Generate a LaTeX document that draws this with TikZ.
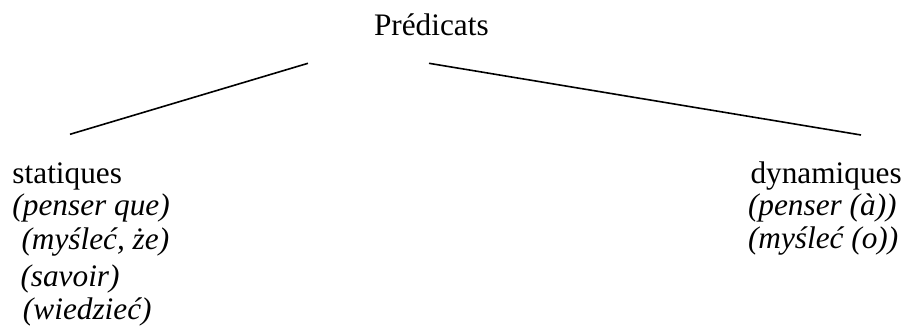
\documentclass[tikz,border=0pt]{standalone}
\usepackage{fontspec}
\setmainfont{Liberation Serif}
\begin{document}
\begin{tikzpicture}[x=1pt,y=-1pt,
  txt/.style={anchor=base west,inner sep=0pt,outer sep=0pt,font=\fontsize{31.3}{33.75}\selectfont},
  itx/.style={txt,font=\fontsize{31.3}{33.75}\selectfont\itshape},
  branch/.style={line width=1.6pt}]
\useasboundingbox (0,0) rectangle (908,336);
\node[txt] (root) at (374,36) {Prédicats};
\node[txt] (stat) at (12.5,184) {statiques};
\node[itx] (s1) at (12.5,216) {(penser que)};
\node[itx] (s2) at (21.5,250) {(myśleć, że)};
\node[itx] (s3) at (20.5,287) {(savoir)};
\node[itx] (s4) at (23,320) {(wiedzieć)};
\node[txt] (dyn) at (750.5,184) {dynamiques};
\node[itx] (d1) at (748,216) {(penser (à))};
\node[itx] (d2) at (748,249) {(myśleć (o))};
\coordinate (la) at (308,63.3);
\coordinate (lb) at (70,134.3);
\coordinate (ra) at (429,63.3);
\coordinate (rb) at (861,135);
\draw[branch] (la) -- (lb);
\draw[branch] (ra) -- (rb);
\end{tikzpicture}
\end{document}
